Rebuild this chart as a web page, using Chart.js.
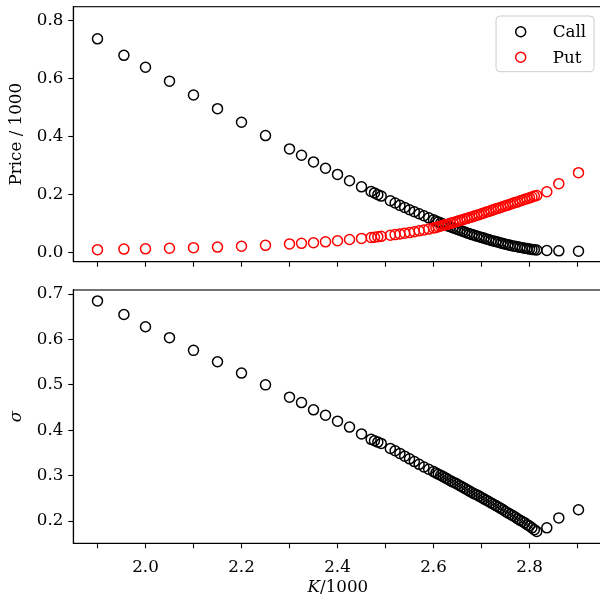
<!DOCTYPE html>
<html><head><meta charset="utf-8">
<script src="https://cdn.jsdelivr.net/npm/chart.js@4.4.0/dist/chart.umd.min.js"></script>
<style>
html,body{margin:0;padding:0;overflow:hidden;background:#fff;width:600px;height:595px}
#wrap{position:relative;width:600px;height:595px;overflow:hidden;background:#fff}
canvas{position:absolute;left:0}
</style></head><body>
<div id="wrap">
<canvas id="topc" width="610" height="280" style="top:0"></canvas>
<canvas id="botc" width="610" height="315" style="top:280px"></canvas>
</div>
<script>
// ---- data (K/1000) ----
const strikes = [1.9,1.955,2.0,2.05,2.1,2.15,2.2,2.25,2.3,2.325,2.35,2.375,2.4,2.425,2.45,
  2.47,2.477,2.484,2.491,
  2.51,2.52,2.53,2.54,2.55,2.56,2.57,2.58,2.59,
  2.6,2.605,2.61,2.615,2.62,2.625,2.63,2.635,2.64,2.645,2.65,2.655,2.66,2.665,2.67,2.675,2.68,2.685,2.69,2.695,
  2.7,2.705,2.71,2.715,2.72,2.725,2.73,2.735,2.74,2.745,2.75,2.755,2.76,2.765,2.77,2.775,2.78,2.785,2.79,2.795,
  2.8,2.805,2.81,2.815,
  2.836,2.861,2.902];
const callPrice = [0.737,0.680,0.639,0.591,0.543,0.496,0.449,0.403,0.357,0.335,0.312,0.290,0.269,0.247,0.226,
  0.210,0.205,0.199,0.194,
  0.178,0.170,0.162,0.155,0.147,0.140,0.133,0.126,0.119,
  0.112,0.108,0.105,0.101,0.098,0.095,0.091,0.088,0.085,0.082,0.079,0.076,0.073,0.070,0.067,0.064,0.061,0.059,0.056,0.054,
  0.051,0.049,0.046,0.044,0.041,0.039,0.037,0.035,0.032,0.030,0.028,0.026,0.024,0.022,0.021,0.019,0.017,0.016,0.014,0.013,
  0.011,0.010,0.009,0.008,
  0.006,0.005,0.004];
const putPrice = [0.009,0.011,0.012,0.014,0.016,0.018,0.021,0.024,0.029,0.031,0.033,0.036,0.040,0.044,0.048,
  0.051,0.052,0.054,0.055,
  0.059,0.061,0.063,0.066,0.068,0.071,0.074,0.077,0.080,
  0.084,0.086,0.088,0.091,0.093,0.095,0.097,0.100,0.102,0.105,0.107,0.110,0.112,0.115,0.117,0.120,0.122,0.125,0.128,0.130,
  0.133,0.136,0.139,0.141,0.144,0.147,0.150,0.152,0.155,0.158,0.161,0.163,0.166,0.169,0.172,0.174,0.177,0.180,0.183,0.185,
  0.188,0.191,0.194,0.196,
  0.209,0.237,0.275];
const sigma = [0.685,0.655,0.628,0.604,0.576,0.551,0.526,0.500,0.473,0.461,0.445,0.433,0.420,0.407,0.392,
  0.380,0.377,0.374,0.371,
  0.360,0.355,0.349,0.343,0.337,0.331,0.325,0.319,0.314,
  0.309,0.306,0.303,0.301,0.298,0.295,0.292,0.289,0.286,0.284,0.281,0.278,0.275,0.272,0.269,0.266,0.263,0.260,0.258,0.255,
  0.252,0.249,0.246,0.243,0.240,0.237,0.234,0.231,0.228,0.225,0.221,0.218,0.215,0.212,0.209,0.205,0.202,0.199,0.196,0.192,
  0.189,0.185,0.181,0.177,
  0.185,0.207,0.225];
const xTicks = [1.9,2.0,2.1,2.2,2.3,2.4,2.5,2.6,2.7,2.8,2.9];
const xTickLabels = ['', '2.0', '', '2.2', '', '2.4', '', '2.6', '', '2.8', ''];
const priceTicks = [0.0,0.2,0.4,0.6,0.8];
const sigmaTicks = [0.2,0.3,0.4,0.5,0.6,0.7];
const seriesNames = ['Call','Put'];

// ---- styling / layout ----
const FONT = '"DejaVu Serif", "Liberation Serif", serif';
const FS = 16.7;
const LEFT = 73.3, RIGHT = 602.5, CW = 610;
const MR = 5, MW = 1.5;
const pts = (ys) => strikes.map((k,i)=>({x:k,y:ys[i]}));

const framePlugin = {
  id:'frame',
  afterDraw(chart){
    const a = chart.chartArea, c = chart.ctx;
    c.save(); c.strokeStyle='#000'; c.lineWidth=1.1;
    c.strokeRect(a.left, a.top, a.right-a.left, a.bottom-a.top);
    c.restore();
  }
};

function scatterDs(label, ys, color, order){
  return {label, data: pts(ys), borderColor: color, backgroundColor:'rgba(0,0,0,0)',
    pointRadius:MR, pointBorderWidth:MW, pointHoverRadius:MR, showLine:false, order, clip:false};
}

function makeOptions(cfg){
  return {
    responsive:false, animation:false, events:[],
    layout:{padding:{left:0, right:CW-RIGHT, top:cfg.top, bottom:0}},
    plugins:{legend:{display:false}, tooltip:{enabled:false}},
    scales:{
      x:{type:'linear', min:1.8496, max:2.952,
        afterBuildTicks(s){ s.ticks = xTicks.map(v=>({value:v})); },
        afterFit(s){ s.height = cfg.xH; s.paddingLeft=0; s.paddingRight=0; },
        ticks:{autoSkip:false, maxRotation:0, padding:cfg.xPad, color:'#000',
          font:{family:FONT,size:FS},
          callback:(v,i)=> cfg.xLabels ? xTickLabels[i] : ''},
        grid:{drawOnChartArea:false, drawTicks:true, tickLength:5, tickColor:'#000', tickWidth:1.1},
        border:{display:true, color:'#000', width:1.1}
      },
      y:{type:'linear', min:cfg.ymin, max:cfg.ymax,
        afterBuildTicks(s){ s.ticks = cfg.yTicks.map(v=>({value:v})); },
        afterFit(s){ s.width = LEFT; s.paddingTop=0; s.paddingBottom=0; },
        ticks:{autoSkip:false, padding:5, color:'#000', font:{family:FONT,size:FS},
          callback:(v)=> Number(v).toFixed(1)},
        grid:{drawOnChartArea:false, drawTicks:true, tickLength:5, tickColor:'#000', tickWidth:1.1},
        border:{display:true, color:'#000', width:1.1},
        title:{display:true, text:cfg.yTitle, color:'#000', padding:{top:7,bottom:0},
          font:{family:FONT,size:FS,style:cfg.yTitleStyle||'normal'}}
      }
    }
  };
}

const legendPlugin = {
  id:'boxLegend',
  afterDraw(chart){
    const c = chart.ctx;
    const x0=496, y0=16, w=98, h=55.7, r=4;
    c.save();
    c.beginPath();
    c.moveTo(x0+r,y0); c.lineTo(x0+w-r,y0); c.quadraticCurveTo(x0+w,y0,x0+w,y0+r);
    c.lineTo(x0+w,y0+h-r); c.quadraticCurveTo(x0+w,y0+h,x0+w-r,y0+h);
    c.lineTo(x0+r,y0+h); c.quadraticCurveTo(x0,y0+h,x0,y0+h-r);
    c.lineTo(x0,y0+r); c.quadraticCurveTo(x0,y0,x0+r,y0); c.closePath();
    c.fillStyle='rgba(255,255,255,0.8)'; c.fill();
    c.strokeStyle='#cccccc'; c.lineWidth=1; c.stroke();
    const items=[{t:seriesNames[0],col:'#000000',y:31.7},{t:seriesNames[1],col:'#ff0000',y:57.3}];
    c.font = FS+'px '+FONT; c.textBaseline='middle'; c.textAlign='left';
    items.forEach(it=>{
      c.beginPath(); c.arc(520.7,it.y,MR,0,Math.PI*2); c.strokeStyle=it.col; c.lineWidth=MW; c.stroke();
      c.fillStyle='#000'; c.fillText(it.t,552.7,it.y+1);
    });
    c.restore();
  }
};

const xTitlePlugin = {
  id:'xTitle',
  afterDraw(chart){
    const c = chart.ctx;
    const a = chart.chartArea;
    const cx = (a.left + a.right)/2, base = 312;
    c.save(); c.fillStyle='#000'; c.textBaseline='alphabetic'; c.textAlign='left';
    const fi = 'italic '+FS+'px '+FONT, fn = FS+'px '+FONT;
    c.font=fi; const w1=c.measureText('K').width;
    c.font=fn; const w2=c.measureText('/1000').width;
    let x = cx - (w1+w2)/2;
    c.font=fi; c.fillText('K',x,base);
    c.font=fn; c.fillText('/1000',x+w1,base);
    c.restore();
  }
};

new Chart(document.getElementById('topc'), {
  type:'scatter',
  data:{datasets:[scatterDs(seriesNames[0],callPrice,'#000000',1), scatterDs(seriesNames[1],putPrice,'#ff0000',0)]},
  options: makeOptions({top:6.7, xH:280-261.7, xPad:5, xLabels:false, ymin:-0.0325, ymax:0.848, yTicks:priceTicks, yTitle:'Price / 1000'}),
  plugins:[framePlugin, legendPlugin]
});

new Chart(document.getElementById('botc'), {
  type:'scatter',
  data:{datasets:[scatterDs('sigma',sigma,'#000000',0)]},
  options: makeOptions({top:10, xH:315-263.3, xPad:9, xLabels:true, ymin:0.151, ymax:0.709, yTicks:sigmaTicks, yTitle:'σ', yTitleStyle:'italic'}),
  plugins:[framePlugin, xTitlePlugin]
});
</script>
</body></html>
